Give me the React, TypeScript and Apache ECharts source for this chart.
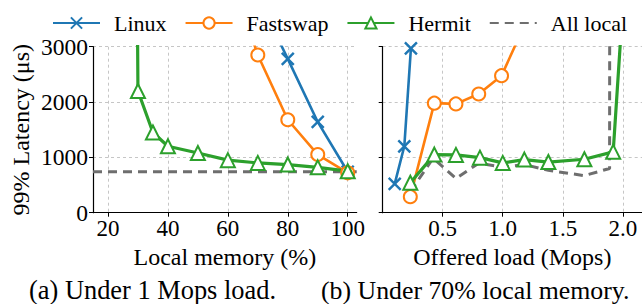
import React, { useEffect, useRef } from "react";
import * as echarts from "echarts";

// ---- data ----
const seriesNames = ["Linux", "Fastswap", "Hermit", "All local"];

// (a) latency vs local memory (%)
const memLinuxX = [70, 80, 90, 100];
const memLinuxY = [3900, 2780, 1640, 740];
const memFastX = [60, 70, 80, 90, 100];
const memFastY = [4450, 2850, 1680, 1050, 720];
const memHermitX = [25, 30, 35, 40, 50, 60, 70, 80, 90, 100];
const memHermitY = [40000, 2200, 1450, 1200, 1080, 950, 900, 870, 820, 750];
const memLocalX = [15, 103];
const memLocalY = [740, 740];

// (b) latency vs offered load (Mops)
const loadLinuxX = [0.1, 0.18, 0.235];
const loadLinuxY = [520, 1200, 2970];
const loadFastX = [0.23, 0.43, 0.61, 0.8, 0.99, 1.2];
const loadFastY = [290, 1980, 1966, 2146, 2477, 3480];
const loadHermitX = [0.23, 0.43, 0.61, 0.81, 1.0, 1.18, 1.38, 1.68, 1.92, 2.05];
const loadHermitY = [540, 1050, 1045, 995, 900, 960, 915, 966, 1100, 5400];
const loadLocalX = [0.23, 0.42, 0.61, 0.8, 1.0, 1.18, 1.38, 1.68, 1.89, 1.9];
const loadLocalY = [380, 985, 620, 895, 825, 870, 765, 670, 800, 30000];

const memTicks = [20, 40, 60, 80, 100];
const loadTicks = [0.5, 1.0, 1.5, 2.0];
const latencyTicks = [0, 1000, 2000, 3000];

const captionA = "(a) Under 1 Mops load.";
const captionB = "(b) Under 70% local memory.";

const zip = (xs: number[], ys: number[]) => xs.map((x, i) => [x, ys[i]]);

const FONT = "serif";
const colors: Record<string, string> = {
  Linux: "#1f77b4",
  Fastswap: "#ff7f0e",
  Hermit: "#2ca02c",
  "All local": "#6e6e6e",
};
const xSymbol = "path://M0,0L10,10M10,0L0,10";

function styleFor(name: string) {
  const c = colors[name];
  if (name === "Linux") {
    return {
      symbol: xSymbol,
      symbolSize: 12,
      lineStyle: { color: c, width: 2.6 },
      itemStyle: { color: c, borderColor: c, borderWidth: 2.4 },
    };
  }
  if (name === "Fastswap") {
    return {
      symbol: "emptyCircle",
      symbolSize: 13,
      lineStyle: { color: c, width: 2.6 },
      itemStyle: { color: c, borderColor: c, borderWidth: 2 },
    };
  }
  if (name === "Hermit") {
    return {
      symbol: "emptyTriangle",
      symbolSize: 14,
      lineStyle: { color: c, width: 3.2 },
      itemStyle: { color: c, borderColor: c, borderWidth: 2 },
    };
  }
  return {
    symbol: "none",
    lineStyle: { color: c, width: 3, type: [9, 6] },
    itemStyle: { color: c },
  };
}

export default function App() {
  const ref = useRef<HTMLDivElement>(null);
  useEffect(() => {
    if (!ref.current) return;
    const chart = echarts.init(ref.current, undefined, { renderer: "svg" });
    const gridLine = { show: true, lineStyle: { color: "#b8b8b8", type: [3, 3], width: 0.8 } };
    const axisLine = { show: true, onZero: false, lineStyle: { color: "#000", width: 1.2 } };
    const axisTick = { show: true, inside: false, length: 4, lineStyle: { color: "#000", width: 1 } };
    const labelStyle = { color: "#000", fontFamily: FONT, fontSize: 23 };
    const nameStyle = { fontFamily: FONT, fontSize: 24, color: "#000" };

    const mk = (name: string, data: number[][], idx: number) => ({
      name,
      type: "line",
      xAxisIndex: idx,
      yAxisIndex: idx,
      data,
      clip: true,
      z: name === "All local" ? 1 : 2,
      ...styleFor(name),
    });

    chart.setOption({
      animation: false,
      textStyle: { fontFamily: FONT },
      legend: {
        data: [
          { name: seriesNames[0] },
          { name: seriesNames[1] },
          { name: seriesNames[2] },
          { name: seriesNames[3], itemStyle: { opacity: 0 } },
        ],
        left: 47,
        top: 7,
        itemWidth: 47,
        itemHeight: 14,
        itemGap: 18,
        textStyle: { fontFamily: FONT, fontSize: 22, color: "#000", padding: [0, 0, 0, 9] },
      },
      grid: [
        { left: 93, top: 46.7, width: 263.7, height: 166 },
        { left: 382.7, top: 46.7, width: 259.3, height: 166 },
      ],
      xAxis: [
        {
          type: "value",
          gridIndex: 0,
          min: 15,
          max: 103,
          interval: 20,
          name: "Local memory (%)",
          nameLocation: "middle",
          nameGap: 27,
          nameTextStyle: nameStyle,
          axisLine,
          axisTick: { ...axisTick, customValues: memTicks },
          axisLabel: { ...labelStyle, margin: 4, customValues: memTicks, formatter: (v: number) => String(v) },
          splitLine: gridLine,
        },
        {
          type: "value",
          gridIndex: 1,
          min: 0,
          max: 2.16,
          interval: 0.5,
          name: "Offered load (Mops)",
          nameLocation: "middle",
          nameGap: 27,
          nameTextStyle: nameStyle,
          axisLine,
          axisTick: { ...axisTick, customValues: loadTicks },
          axisLabel: {
            ...labelStyle,
            margin: 4,
            customValues: loadTicks,
            formatter: (v: number) => v.toFixed(1),
          },
          splitLine: gridLine,
        },
      ],
      yAxis: [
        {
          type: "value",
          gridIndex: 0,
          min: 0,
          max: 3000,
          interval: 1000,
          name: "99% Latency (μs)",
          nameLocation: "middle",
          nameGap: 60,
          nameTextStyle: nameStyle,
          axisLine,
          axisTick: { ...axisTick, customValues: latencyTicks },
          axisLabel: { ...labelStyle, fontSize: 23.5, margin: 5, customValues: latencyTicks, formatter: (v: number) => String(v) },
          splitLine: gridLine,
        },
        {
          type: "value",
          gridIndex: 1,
          min: 0,
          max: 3000,
          interval: 1000,
          axisLine,
          axisTick: { ...axisTick, customValues: latencyTicks },
          axisLabel: { show: false },
          splitLine: gridLine,
        },
      ],
      series: [
        mk("Linux", zip(memLinuxX, memLinuxY), 0),
        mk("Fastswap", zip(memFastX, memFastY), 0),
        mk("Hermit", zip(memHermitX, memHermitY), 0),
        mk("All local", zip(memLocalX, memLocalY), 0),
        mk("Linux", zip(loadLinuxX, loadLinuxY), 1),
        mk("Fastswap", zip(loadFastX, loadFastY), 1),
        mk("Hermit", zip(loadHermitX, loadHermitY), 1),
        mk("All local", zip(loadLocalX, loadLocalY), 1),
      ],
      graphic: [
        {
          type: "text",
          left: 29,
          top: 277,
          style: { text: captionA, fontFamily: FONT, fontSize: 26.4, fill: "#000" },
        },
        {
          type: "text",
          left: 321,
          top: 277,
          style: { text: captionB, fontFamily: FONT, fontSize: 25.8, fill: "#000" },
        },
      ],
    });
    return () => chart.dispose();
  }, []);
  return (
    <div
      ref={ref}
      style={{ position: "fixed", left: 0, top: 0, width: 642, height: 304, background: "#fff" }}
    />
  );
}
